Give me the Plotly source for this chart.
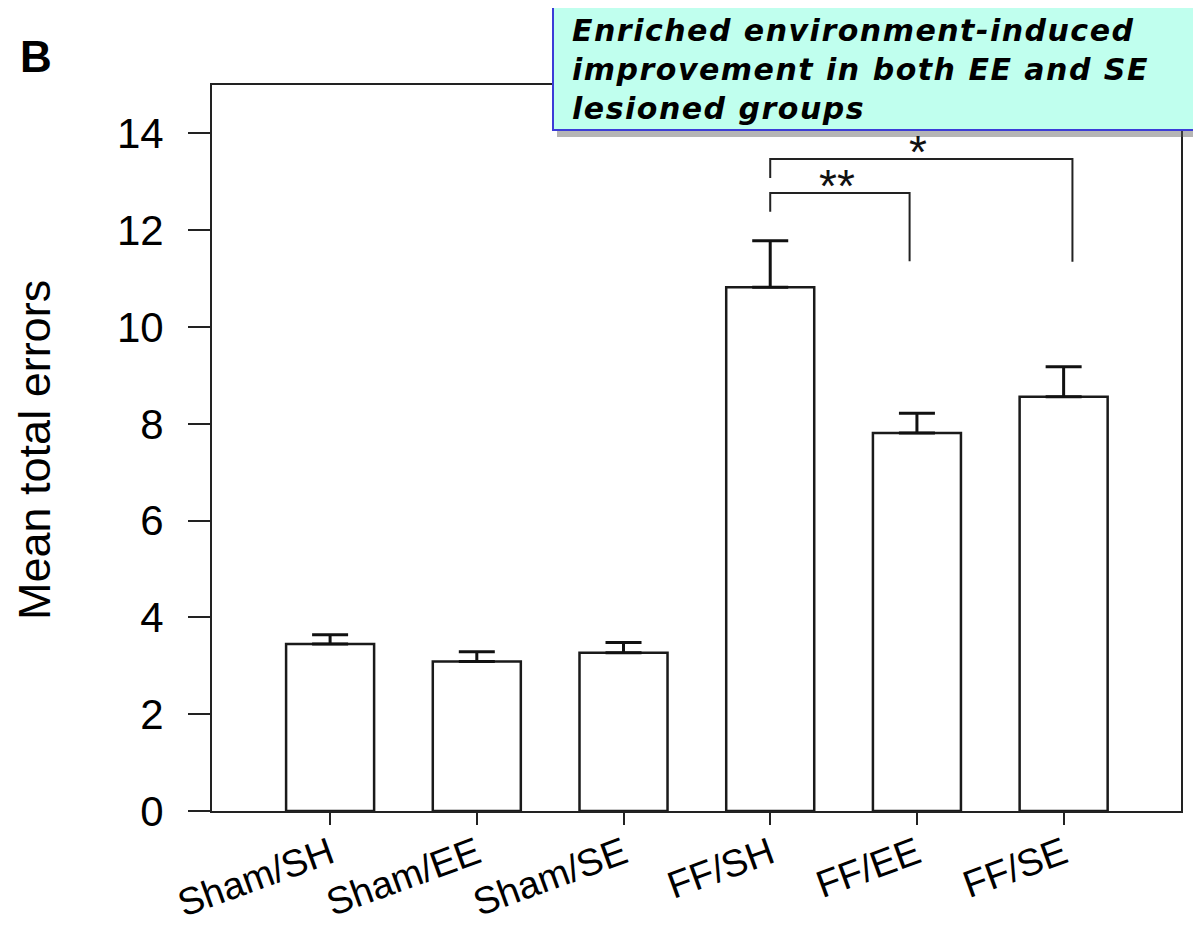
import plotly.graph_objects as go

categories = ["Sham/SH", "Sham/EE", "Sham/SE", "FF/SH", "FF/EE", "FF/SE"]
means = [3.45, 3.09, 3.27, 10.82, 7.81, 8.56]
sem = [0.19, 0.20, 0.21, 0.96, 0.41, 0.62]
y_ticks = [0, 2, 4, 6, 8, 10, 12, 14]

# significance brackets: left x, right x, top y, left leg bottom, right leg bottom, label
bracket_left_x = [3.0, 3.0]
bracket_right_x = [3.95, 5.06]
bracket_top_y = [12.77, 13.47]
bracket_left_bottom = [12.38, 13.08]
bracket_right_bottom = [11.36, 11.35]
bracket_labels = ["**", "*"]
bracket_label_x = [3.456, 4.008]

box_lines = ["Enriched environment-induced", "improvement in both EE and SE", "lesioned groups"]

x_pos = list(range(len(categories)))

fig = go.Figure()
fig.add_trace(go.Bar(
    x=x_pos, y=means, width=0.6,
    marker=dict(color="white", line=dict(color="#1a1a1a", width=2.5)),
    error_y=dict(type="data", symmetric=False, array=sem, arrayminus=[0] * len(sem),
                 color="#111", thickness=3, width=18),
    showlegend=False,
))

for i in range(len(bracket_labels)):
    fig.add_trace(go.Scatter(
        x=[bracket_left_x[i], bracket_left_x[i], bracket_right_x[i], bracket_right_x[i]],
        y=[bracket_left_bottom[i], bracket_top_y[i], bracket_top_y[i], bracket_right_bottom[i]],
        mode="lines", line=dict(color="#222", width=2), showlegend=False, hoverinfo="skip",
    ))
    fig.add_annotation(x=bracket_label_x[i], y=bracket_top_y[i], text=bracket_labels[i],
                       showarrow=False, yanchor="middle", yshift=7,
                       font=dict(family="Liberation Sans", size=46, color="#111"))

# page is offset by the 8px body margin
OFF = 8
W, H = 1193, 922
L, R, T, B = 212 - OFF, W - (1181 - OFF), 85 - OFF, H - (811 - OFF)
pw = W - L - R
ph = H - T - B

def px(p):
    return (p - OFF - L) / pw

def py(p):
    return (H - B - (p - OFF)) / ph

# shadow and box
fig.add_shape(type="rect", xref="paper", yref="paper", x0=px(557), x1=px(1203), y0=py(137), y1=py(10),
              fillcolor="rgba(90,90,90,0.45)", line=dict(width=0), layer="above")
fig.add_shape(type="rect", xref="paper", yref="paper", x0=px(553), x1=px(1198), y0=py(130), y1=py(6),
              fillcolor="rgb(192,255,238)", line=dict(color="rgb(60,60,215)", width=2), layer="above")
box_text = "<br>".join('<span style="letter-spacing:1.5px"><b><i>' + t + '</i></b></span>' for t in box_lines)
fig.add_annotation(xref="paper", yref="paper", x=px(570), y=py(69), xanchor="left", yanchor="middle",
                   align="left", showarrow=False, text=box_text,
                   font=dict(family="DejaVu Sans", size=30, color="black"))

fig.add_annotation(xref="paper", yref="paper", x=px(36), y=py(56), xanchor="center", yanchor="middle",
                   showarrow=False, text="<b>B</b>",
                   font=dict(family="Liberation Sans", size=44, color="black"))

fig.add_annotation(xref="paper", yref="paper", x=px(35), y=py(450), xanchor="center", yanchor="middle",
                   showarrow=False, text="Mean total errors", textangle=-90,
                   font=dict(family="Liberation Sans", size=45, color="black"))

fig.update_layout(
    width=W, height=H, margin=dict(l=L, r=R, t=T, b=B, autoexpand=False),
    paper_bgcolor="white", plot_bgcolor="white",
    bargap=0.4,
)
fig.update_xaxes(
    range=[-0.805, 5.8], tickmode="array", tickvals=x_pos, ticktext=categories,
    tickangle=-20, ticks="outside", ticklen=12, tickwidth=2, tickcolor="#222",
    showline=True, linecolor="#222", linewidth=2, mirror=True, showgrid=False, zeroline=False,
    tickfont=dict(family="Liberation Sans", size=38, color="black"), automargin=False,
    ticklabelstandoff=-8,
)
fig.update_yaxes(
    range=[0, 15], tickmode="array", tickvals=y_ticks,
    ticks="outside", ticklen=22, tickwidth=2, tickcolor="#222",
    showline=True, linecolor="#222", linewidth=2, mirror=True, showgrid=False, zeroline=False,
    tickfont=dict(family="Liberation Sans", size=42, color="black"), ticklabelstandoff=16,
    automargin=False,
)

fig.write_html("out.html")
